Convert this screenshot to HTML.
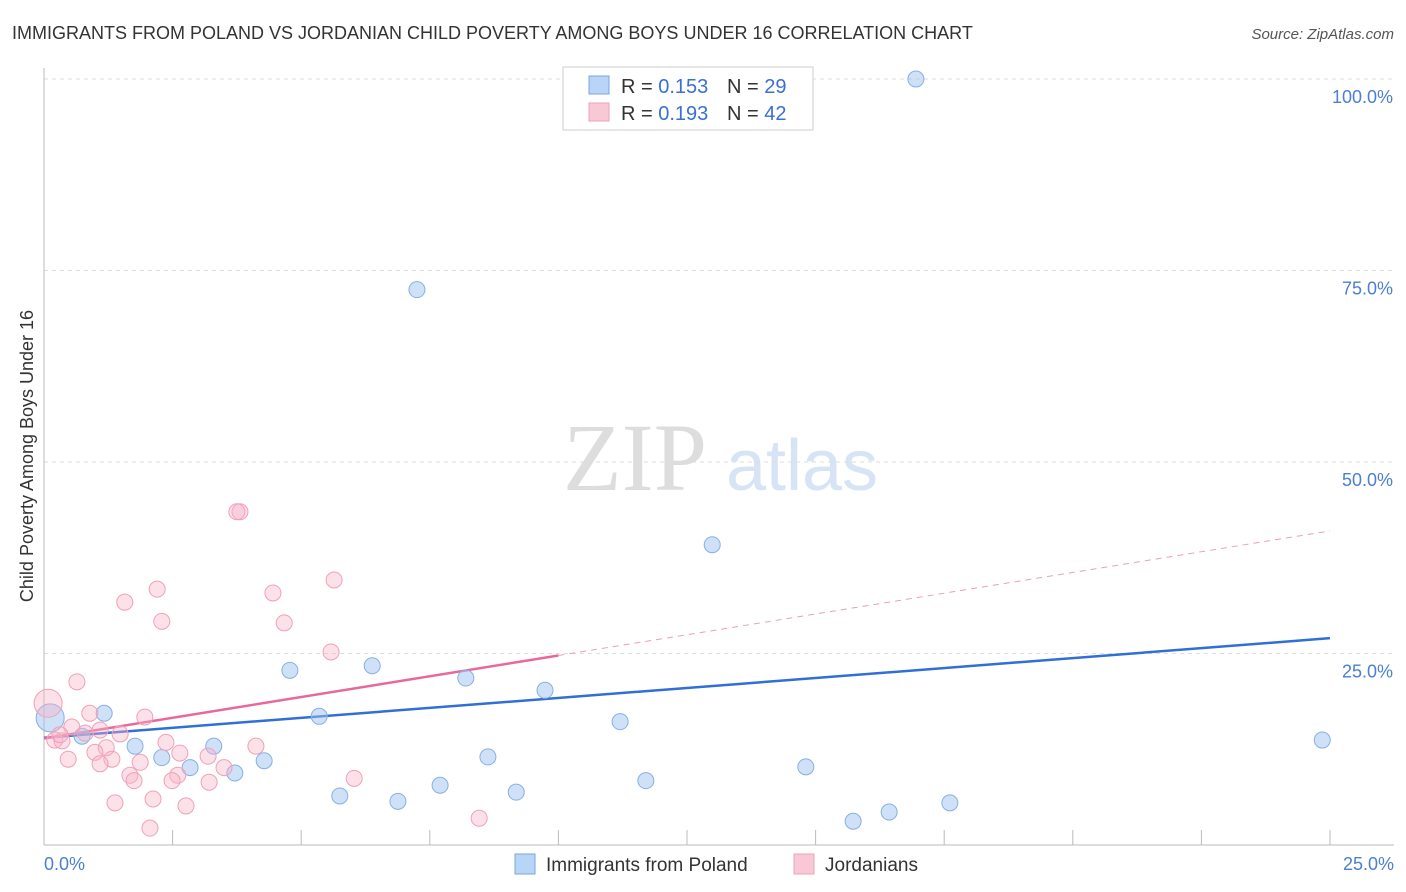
<!DOCTYPE html>
<html><head><meta charset="utf-8"><style>
body{margin:0;background:#fff;font-family:"Liberation Sans",sans-serif;}
svg{display:block}
</style></head><body>
<svg id="chart" width="1406" height="892">
<text x="12" y="39" font-size="18" fill="#333">IMMIGRANTS FROM POLAND VS JORDANIAN CHILD POVERTY AMONG BOYS UNDER 16 CORRELATION CHART</text>
<text x="1394" y="39" font-size="15" fill="#555" font-style="italic" text-anchor="end">Source: ZipAtlas.com</text>
<g>
<text x="635" y="490" font-size="96" fill="#ddd" font-family="Liberation Serif,serif" text-anchor="middle">ZIP</text>
<text x="802" y="490" font-size="72" fill="#d6e4f5" text-anchor="middle">atlas</text>
</g>
<g id="grid"></g>
<g id="axes"></g>
<path id="blue-trend" stroke="#2f6fd6" stroke-width="2.5" fill="none"/>
<path id="pink-trend" stroke="#e8689a" stroke-width="2.5" fill="none"/>
<path id="pink-trend-dash" stroke="#e8a0b8" stroke-width="1" stroke-dasharray="6,5" fill="none"/>
<g id="points"></g>
<text x="27" y="456" font-size="18" fill="#333" text-anchor="middle" transform="rotate(-90 27 456)" dy="6">Child Poverty Among Boys Under 16</text>
<text x="44" y="870" font-size="18" fill="#4a7fd4">0.0%</text>
<text x="1394" y="870" font-size="18" fill="#4a7fd4" text-anchor="end">25.0%</text>
<g>
<rect x="563" y="67" width="250" height="63" fill="#fff" stroke="#ccc"/>
<rect x="589" y="76" width="20" height="18" fill="#b8d4f6" stroke="#7aa6e0"/>
<rect x="589" y="103" width="20" height="18" fill="#f9c8d6" stroke="#eea0b8"/>
<text x="621" y="93" font-size="20" fill="#333">R = <tspan fill="#3a70d0">0.153</tspan></text>
<text x="727" y="93" font-size="20" fill="#333">N = <tspan fill="#3a70d0">29</tspan></text>
<text x="621" y="120" font-size="20" fill="#333">R = <tspan fill="#3a70d0">0.193</tspan></text>
<text x="727" y="120" font-size="20" fill="#333">N = <tspan fill="#3a70d0">42</tspan></text>
</g>
<g>
<rect x="515" y="854" width="20" height="20" fill="#b8d4f6" stroke="#7aa6e0"/>
<text x="546" y="871" font-size="19" fill="#333">Immigrants from Poland</text>
<rect x="794" y="854" width="20" height="20" fill="#f9c8d6" stroke="#eea0b8"/>
<text x="825" y="871" font-size="19" fill="#333">Jordanians</text>
</g>
</svg>
<script>
const blueX=[16.95,7.25,12.99,4.78,6.38,8.2,9.74,5.35,11.2,1.17,0.74,1.77,3.3,2.29,2.84,3.71,4.28,8.63,5.75,6.88,7.7,9.18,11.7,14.81,15.73,16.43,17.61,24.85,0.12];
const blueY=[100,72.5,39.2,22.8,23.4,21.8,20.2,16.8,16.1,17.2,14.2,12.9,12.9,11.4,10.1,9.4,11.0,11.5,6.4,5.7,7.8,6.9,8.4,10.2,3.1,4.3,5.5,13.7,16.6];
const pinkX=[3.81,3.75,2.2,1.57,4.45,5.64,2.29,4.67,5.58,0.64,0.08,0.89,1.96,0.54,0.8,0.21,0.35,1.48,2.37,4.12,1.21,0.99,2.64,3.19,0.47,1.32,1.87,1.09,3.5,1.67,2.6,1.75,2.49,3.21,6.03,2.12,1.38,2.76,2.06,8.46,0.31,1.09];
const pinkY=[43.5,43.5,33.4,31.7,32.9,34.6,29.2,29.0,25.2,21.3,18.5,17.2,16.7,15.4,14.6,13.7,13.6,14.5,13.4,12.9,12.7,12.1,12.0,11.6,11.2,11.2,10.8,10.6,10.1,9.1,9.1,8.4,8.4,8.2,8.7,6.0,5.5,5.1,2.2,3.5,14.4,15.0];
const yTicks=[100,75,50,25];
const yTickLabels=["100.0%","75.0%","50.0%","25.0%"];
const blueTrend=[14.0,27.0];
const pinkTrend=[13.9,41.0];
const NS="http://www.w3.org/2000/svg";
const sx=v=>44+v/25*1286, sy=v=>845-v/100*766;
function mk(t,a,p){const e=document.createElementNS(NS,t);for(const k in a)e.setAttribute(k,a[k]);p.appendChild(e);return e;}
const grid=document.getElementById('grid'),axes=document.getElementById('axes'),pts=document.getElementById('points');
yTicks.forEach((v,i)=>{
 const l=mk('line',{x1:44,x2:1394,y1:sy(v),y2:sy(v),stroke:'#ddd','stroke-dasharray':'4,4'},grid);
 
 
 const t=mk('text',{x:1393,y:sy(v)+24,'font-size':18,fill:'#4a7fd4','text-anchor':'end'},grid);
 t.textContent=yTickLabels[i];
 
 
});
const xa=mk('line',{x1:44,x2:1394,y1:845,y2:845,stroke:'#bbb'},axes);


const ya=mk('line',{x1:44,x2:44,y1:68,y2:845,stroke:'#bbb'},axes);


for(let i=0;i<=10;i++){const v=i*2.5;const tk=mk('line',{x1:sx(v),x2:sx(v),y1:830,y2:845,stroke:'#bbb'},axes);
 
 }
document.getElementById('blue-trend').setAttribute('d',`M${sx(0)},${sy(blueTrend[0])}L${sx(25)},${sy(blueTrend[1])}`);
const pm=v=>pinkTrend[0]+(pinkTrend[1]-pinkTrend[0])*v/25;
document.getElementById('pink-trend').setAttribute('d',`M${sx(0)},${sy(pm(0))}L${sx(10)},${sy(pm(10))}`);
document.getElementById('pink-trend-dash').setAttribute('d',`M${sx(10)},${sy(pm(10))}L${sx(25)},${sy(pm(25))}`);
blueX.forEach((x,i)=>{const c=mk('circle',{cx:sx(x),cy:sy(blueY[i]),r:i==28?14:8,fill:'rgba(160,196,240,0.5)',stroke:'#86b0e6','stroke-width':1},pts);
 
 });
pinkX.forEach((x,i)=>{const c=mk('circle',{cx:sx(x),cy:sy(pinkY[i]),r:i==10?14:8,fill:'rgba(248,180,200,0.4)',stroke:'#f0a0b8','stroke-width':1},pts);
 
 });
</script>
</body></html>
